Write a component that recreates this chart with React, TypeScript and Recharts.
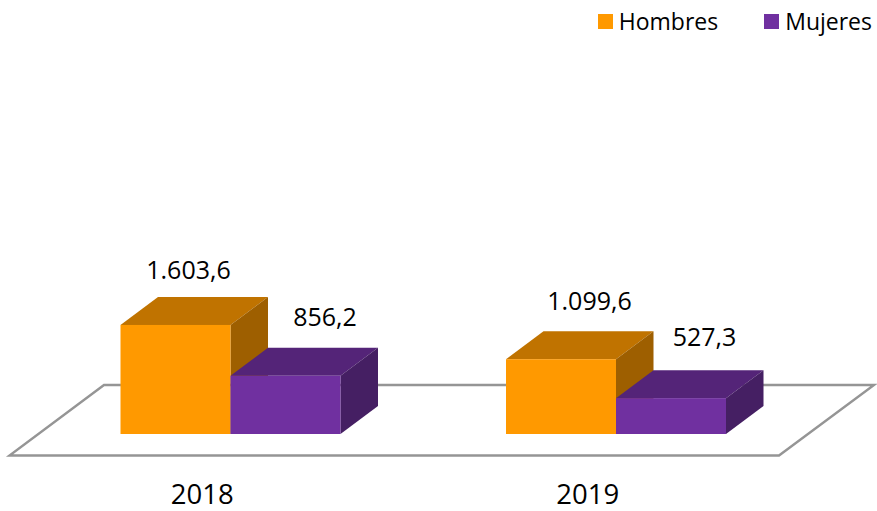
import { BarChart, Bar, XAxis, YAxis, Legend, LabelList, Customized } from "recharts";

const years = ["2018", "2019"];
const hombres = [1603.6, 1099.6];
const mujeres = [856.2, 527.3];

const data = years.map((year, i) => ({ year, hombres: hombres[i], mujeres: mujeres[i] }));

const FONT = "'Open Sans', sans-serif";
const DEPTH_X = 37.5;
const DEPTH_Y = 28;
const ORANGE = { front: "#ff9900", top: "#c07300", side: "#9e5f00" };
const PURPLE = { front: "#7030a0", top: "#542478", side: "#451f63" };

// labels in the original sit off the bars by hand, so each one gets a nudge
const hombresNudge = [
  { dx: 13, dy: -56 },
  { dx: 28.5, dy: -59 },
];
const mujeresNudge = [
  { dx: 39.5, dy: -60 },
  { dx: 33.5, dy: -62 },
];

function formatValue(v: number) {
  const [whole, dec] = v.toFixed(1).split(".");
  return whole.replace(/\B(?=(\d{3})+$)/g, ".") + "," + dec;
}

function box3d(colors: { front: string; top: string; side: string }) {
  return (props: any) => {
    const { x, y, width, height } = props;
    const r = x + width;
    const b = y + height;
    return (
      <g>
        <polygon
          points={`${x},${y} ${x + DEPTH_X},${y - DEPTH_Y} ${r + DEPTH_X},${y - DEPTH_Y} ${r},${y}`}
          fill={colors.top}
        />
        <polygon
          points={`${r},${y} ${r + DEPTH_X},${y - DEPTH_Y} ${r + DEPTH_X},${b - DEPTH_Y} ${r},${b}`}
          fill={colors.side}
        />
        <rect x={x} y={y} width={width} height={height} fill={colors.front} />
      </g>
    );
  };
}

function valueLabel(nudges: { dx: number; dy: number }[]) {
  return (props: any) => {
    const { x, y, width, value, index } = props;
    const n = nudges[index];
    return (
      <text
        x={x + width / 2 + n.dx}
        y={y + n.dy}
        textAnchor="middle"
        dominantBaseline="central"
        fontFamily={FONT}
        fontSize={25}
        fill="#000"
      >
        {formatValue(value)}
      </text>
    );
  };
}

function Floor() {
  return (
    <polygon
      points="9.5,455.5 779,455.5 874,385 104,385"
      fill="none"
      stroke="#959595"
      strokeWidth={2.4}
    />
  );
}

function LegendBox(props: any) {
  return (
    <div style={{ display: "flex", fontFamily: FONT, fontSize: 23, color: "#000", lineHeight: "26px", height: 26 }}>
      {props.payload.map((item: any, i: number) => (
        <div key={item.value} style={{ display: "flex", alignItems: "center", marginLeft: i ? 46 : 0 }}>
          <span style={{ width: 15, height: 15, background: item.color, marginRight: 6 }} />
          {item.value}
        </div>
      ))}
    </div>
  );
}

export default function App() {
  return (
    <div style={{ position: "absolute", left: 0, top: 0, width: 877, height: 511, background: "#fff" }}>
      <BarChart
        width={877}
        height={511}
        data={data}
        barSize={110}
        barGap={0}
        margin={{ top: 0, right: 68.5, bottom: 0, left: 37.5 }}
      >
        <Customized component={Floor} />
        <XAxis
          dataKey="year"
          axisLine={false}
          tickLine={false}
          height={77}
          tickMargin={44}
          tick={{ fontFamily: FONT, fontSize: 27.5, fill: "#000", dx: -28 }}
        />
        <YAxis hide domain={[0, 6000]} />
        <Legend
          verticalAlign="top"
          align="right"
          content={LegendBox}
          wrapperStyle={{ position: "absolute", top: 8, right: 5, left: "auto", width: "auto" }}
        />
        <Bar dataKey="hombres" name="Hombres" fill={ORANGE.front} shape={box3d(ORANGE)} isAnimationActive={false}>
          <LabelList dataKey="hombres" content={valueLabel(hombresNudge)} />
        </Bar>
        <Bar dataKey="mujeres" name="Mujeres" fill={PURPLE.front} shape={box3d(PURPLE)} isAnimationActive={false}>
          <LabelList dataKey="mujeres" content={valueLabel(mujeresNudge)} />
        </Bar>
      </BarChart>
    </div>
  );
}
